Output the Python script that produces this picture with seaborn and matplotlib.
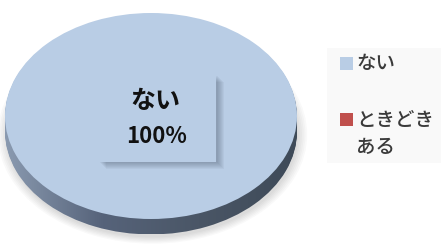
import numpy as np
import seaborn as sns
import matplotlib.pyplot as plt
from matplotlib.patches import Rectangle
from matplotlib.colors import LinearSegmentedColormap

# data
categories = ["ない", "ときどき\nある"]
values = [100, 0]
colors = ["#B9CDE5", "#C0504D"]

sns.set_theme(style="white")
plt.rcParams["font.family"] = ["Noto Sans CJK JP", "DejaVu Sans"]

fig = plt.figure(figsize=(4.41, 2.46), dpi=100)
ax = fig.add_axes([5 / 441, 6.4 / 246, 292 / 441, 242.05 / 246])

depth = 0.15
side_cmap = LinearSegmentedColormap.from_list("side", ["#8A9AB0", "#56637A", "#4A5666", "#3E4A58"])
grad = np.tile(np.linspace(0, 1, 256), (8, 1))

# soft shadow under the disc
for i in range(6):
    ax.pie(values, radius=1.0 + 0.012 * i, center=(0.01, -depth - 0.03),
           colors=["#000000", "#000000"], startangle=90, counterclock=False,
           wedgeprops=dict(linewidth=0, alpha=0.025))

# side of the 3d disc
n = 14
for k in range(n, 0, -1):
    cy = -depth * k / n
    wedges, _ = ax.pie(values, center=(0, cy), colors=colors, startangle=90,
                       counterclock=False, wedgeprops=dict(linewidth=0))
    for w in wedges:
        w.set_alpha(0)
    im = ax.imshow(grad, extent=(-1, 1, -1 - depth, 1), aspect="auto",
                   cmap=side_cmap, interpolation="bilinear", zorder=2)
    im.set_clip_path(wedges[0])

# top face
top, _ = ax.pie(values, colors=colors, startangle=90, counterclock=False,
                wedgeprops=dict(linewidth=0))
for w in top:
    w.set_zorder(3)

ax.set_xlim(-1, 1)
ax.set_ylim(-1.2, 1.15)
ax.set_aspect("auto")
ax.axis("off")

# data label box with soft shadow
bx, by, bw, bh = 98 / 441, 84 / 246, 118 / 441, 89 / 246
for i in range(1, 8):
    fig.patches.append(Rectangle((bx + (i + 1) / 441, by - i / 246), bw, bh - 2 / 246,
                                 transform=fig.transFigure, facecolor="#1F2A3A", alpha=0.045,
                                 linewidth=0, zorder=5))
fig.patches.append(Rectangle((bx, by), bw, bh, transform=fig.transFigure,
                             facecolor=colors[0], linewidth=0, zorder=6))
fig.text(0.352, 0.588, categories[0], ha="center", va="center", fontsize=18,
         fontweight="bold", color="#111111", zorder=7)
fig.text(0.354, 0.447, f"{values[0]}%", ha="center", va="center", fontsize=16,
         fontweight="bold", color="#111111", zorder=7)

# legend
fig.patches.append(Rectangle((0.741, 0.337), 0.259, 0.468, transform=fig.transFigure,
                             facecolor="#F9F9F9", linewidth=0, zorder=1))
label_y = [0.740, 0.455]
handle_y = [0.715, 0.488]
for lab, col, ty, hy in zip(categories, colors, label_y, handle_y):
    fig.patches.append(Rectangle((0.771, hy), 13 / 441, 13 / 246, transform=fig.transFigure,
                                 facecolor=col, linewidth=0, zorder=2))
    va = "center"
    if "\n" in lab:
        va = "top"
        ty = 0.548
    fig.text(0.808, ty, lab, ha="left", va=va, fontsize=14, color="#3A3A3A",
             fontweight="medium", linespacing=1.55, zorder=3)

fig.savefig("out.png", dpi=100)
